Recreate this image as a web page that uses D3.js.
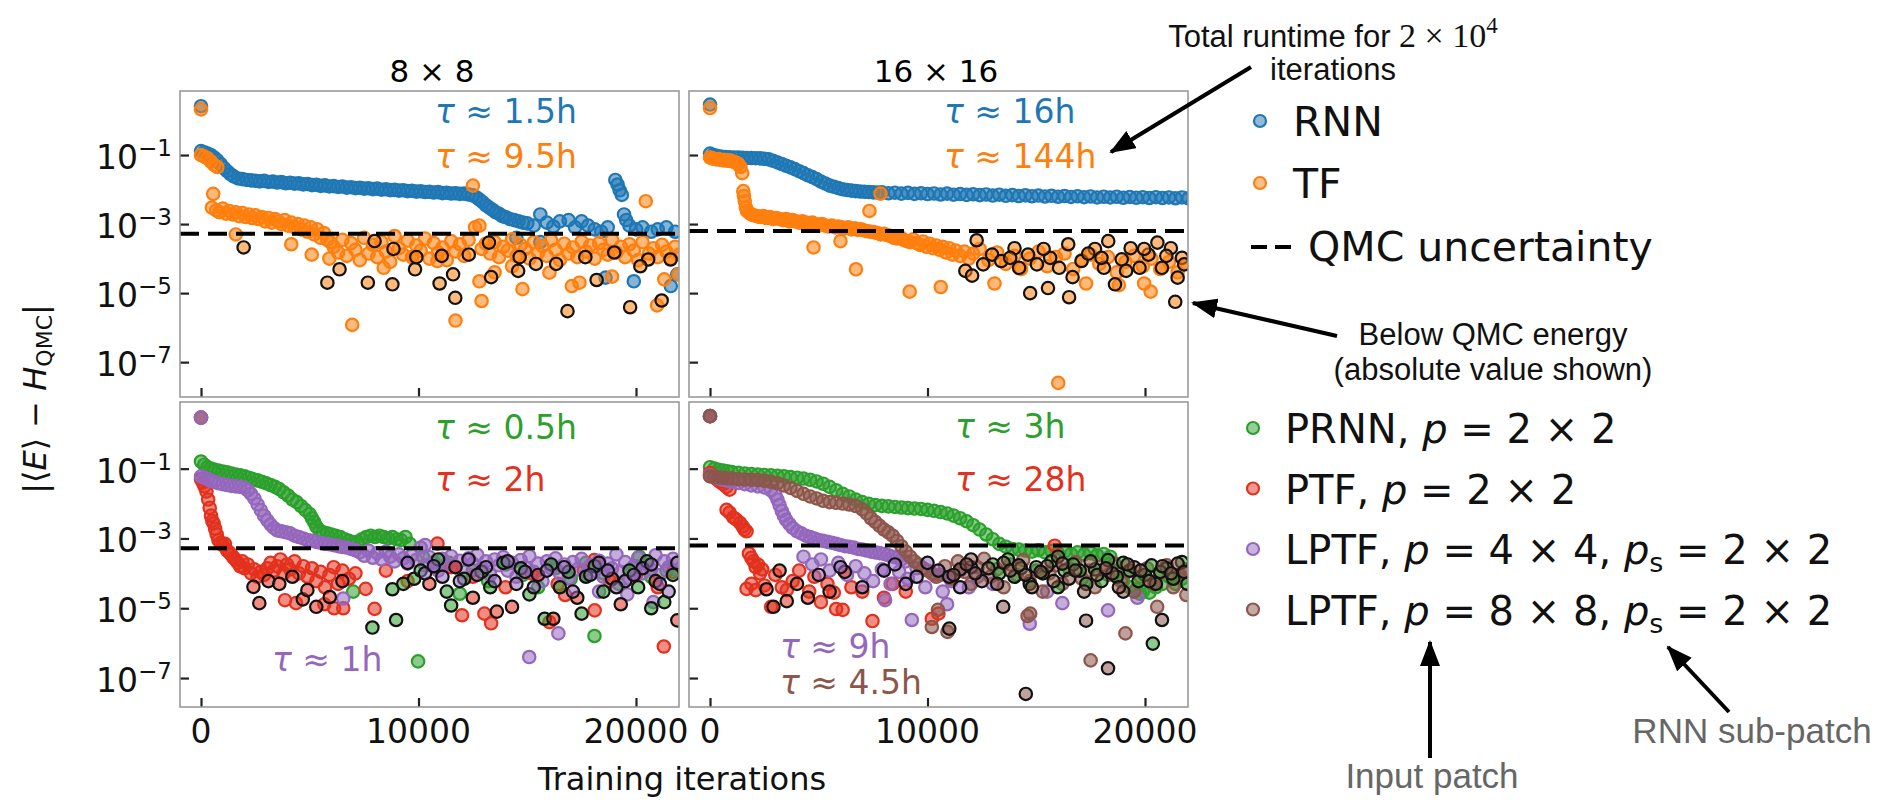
<!DOCTYPE html>
<html>
<head>
<meta charset="utf-8">
<script src="https://cdn.jsdelivr.net/npm/d3@7"></script>
<style>
  body { margin: 0; background: #fff; }
  svg text { white-space: pre; }
</style>
</head>
<body>
<svg id="chart" width="1883" height="800"></svg>
<script>

// ---- data: [iteration, |<E> - H_QMC|] ----

var xTicks = [0, 10000, 20000];
var yTicks = [1e-1, 1e-3, 1e-5, 1e-7];
var yTickExp = ['1', '3', '5', '7'];
var qmc8 = 5.2e-4;
var qmc16 = 6.3e-4;

// 8x8, RNN
var rnn8 = [[0,2.6],[0,0.13],[150,0.12],[300,0.11],[450,0.1],[600,0.085],[750,0.07],[900,0.055],[1050,0.042],[1200,0.034],[1350,0.028],[1500,0.024],[1700,0.021],[1900,0.02],[2100,0.019],[2300,0.0185],[2500,0.018],[2700,0.0172],[2900,0.0178],[3100,0.0166],[3300,0.0171],[3500,0.016],[3700,0.0164],[3900,0.0152],[4100,0.0157],[4300,0.0148],[4500,0.0151],[4700,0.0141],[4900,0.0145],[5100,0.0134],[5300,0.0138],[5500,0.0128],[5700,0.0132],[5900,0.0123],[6100,0.0126],[6300,0.0119],[6500,0.0122],[6700,0.0114],[6900,0.0117],[7100,0.011],[7300,0.0113],[7500,0.0106],[7700,0.0109],[7900,0.0103],[8100,0.0106],[8300,0.0099],[8500,0.0102],[8700,0.0096],[8900,0.0098],[9100,0.0093],[9300,0.0095],[9500,0.009],[9700,0.0092],[9900,0.0087],[10100,0.0089],[10300,0.0085],[10500,0.0086],[10700,0.0082],[10900,0.0084],[11100,0.0079],[11300,0.0081],[11500,0.0077],[11700,0.0078],[11900,0.0075],[12100,0.0076],[12300,0.0072],[12500,0.0068],[12650,0.006],[12800,0.0051],[12950,0.0043],[13100,0.0035],[13250,0.003],[13400,0.0026],[13550,0.0022],[13700,0.002],[13850,0.0017],[14000,0.0016],[14200,0.0014],[14400,0.0013],[14600,0.0012],[14800,0.0011],[15000,0.00105],[15300,0.0009],[15600,0.0019],[15900,0.0011],[16200,0.00085],[16500,0.0012],[16900,0.0013],[17200,0.0008],[17500,0.0012],[17800,0.0009],[18100,0.0007],[18400,0.0006],[18700,0.0008],[19050,0.019],[19150,0.014],[19250,0.0095],[19350,0.007],[19450,0.0019],[19550,0.0013],[19700,0.0009],[20000,0.0007],[20300,0.0008],[20700,0.0006],[21000,0.0007],[21400,0.0008],[21800,0.0006],[18600,2.8e-5],[19900,2.2e-5],[21600,1.6e-5],[21900,3.5e-5],[14500,0.0004],[15600,0.0003]];

// 8x8, TF
var tf8 = [[0,2.1],[0,0.1],[150,0.09],[300,0.08],[450,0.065],[600,0.052],[750,0.045],[560,0.0075],[500,0.003],[700,0.0025],[850,0.0022],[1000,0.0028],[1150,0.002],[1300,0.0024],[1450,0.0019],[1600,0.0022],[1750,0.0017],[1900,0.0021],[2050,0.0016],[2200,0.0019],[2350,0.0015],[2500,0.0018],[2650,0.0014],[2800,0.0016],[2950,0.0012],[3100,0.0015],[3250,0.0011],[3400,0.0014],[3550,0.0012],[3700,0.001],[3850,0.0013],[4000,0.0009],[4150,0.0011],[4300,0.0008],[4450,0.001],[4600,0.0007],[4750,0.0009],[4900,0.0006],[5050,0.0008],[5200,0.0005],[5350,0.0007],[5500,0.0004],[5650,0.00055],[5800,0.00035],[5950,0.0003],[1600,0.0005],[4150,0.00026],[5090,0.00013],[5900,0.0001],[6100,0.00022],[6300,0.00015],[6500,0.00035],[6700,0.00012],[6900,0.00028],[7100,0.00018],[7300,0.00009],[7500,0.0004],[7700,0.00014],[7900,0.00025],[8100,0.00011],[8300,0.0003],[8500,0.00016],[8700,0.00008],[8900,0.00045],[9100,0.0002],[9300,0.00013],[9500,0.00033],[9700,0.00011],[9900,0.00024],[10100,0.00017],[10300,0.00038],[10500,0.0001],[10700,0.00028],[10900,0.00015],[11100,0.00021],[11300,0.00009],[11500,0.00032],[11700,0.00016],[11900,0.00026],[12100,0.00012],[12300,0.00035],[12500,0.013],[12600,0.0008],[12800,0.0009],[12900,0.00019],[13100,0.00027],[13300,0.00014],[13500,0.0003],[13700,0.00011],[13900,0.00022],[14100,0.00017],[14300,0.00036],[14500,0.00012],[14700,0.00025],[14900,0.00019],[15100,0.0001],[15300,0.0003],[15500,0.00015],[15700,0.00023],[15900,0.00012],[16100,0.00034],[16300,0.00018],[16500,0.00009],[16700,0.00027],[16900,0.00014],[17100,0.00021],[17300,0.00011],[17500,0.00031],[17700,0.00016],[17900,0.00024],[18100,0.0001],[18300,0.00028],[18500,0.00018],[18700,0.00013],[18900,0.00035],[19100,0.00015],[19300,0.00022],[19500,0.00011],[19700,0.00026],[19900,0.00017],[20100,0.00009],[20300,0.0003],[20450,0.0046],[20600,0.00014],[20800,0.0002],[21000,0.00011],[21200,0.00025],[21400,0.00016],[21600,0.0001],[21800,0.00022],[22000,0.00013],[6950,1.2e-6],[11700,1.6e-6],[12900,5.9e-6],[12800,2.2e-5],[14780,1.3e-5],[20970,4.4e-6],[17050,1.6e-5],[17400,2e-5],[16020,3.9e-5],[21950,3.5e-5],[10870,8.5e-5],[8400,5.4e-5],[9730,1.1e-4],[13500,4e-5],[14300,6e-5],[18900,3e-5],[21300,2.5e-5]];

// 8x8, TF points below the QMC energy
var tf8Below = [[1960,2.1e-4],[5810,2.0e-5],[6370,4.9e-5],[7670,2.0e-5],[8800,1.8e-5],[9840,4.9e-5],[10970,1.9e-5],[11690,7.3e-6],[11590,3.5e-5],[13340,2.9e-5],[14580,4.4e-5],[16850,3.0e-6],[18190,2.4e-5],[19730,3.9e-6],[21180,6.1e-6],[7980,3.2e-4],[8850,1.9e-4],[9900,1.1e-4],[11070,1.2e-4],[12310,1.3e-4],[13240,2.9e-4],[16330,7e-5],[17670,1.1e-4],[20560,9.4e-5],[21590,9.4e-5],[15400,7e-5],[14650,1.1e-4],[19000,1.5e-4],[20200,6e-5]];

// 16x16, RNN
var rnn16 = [[0,2.9],[0,0.11],[150,0.1],[300,0.095],[500,0.09],[700,0.088],[900,0.086],[1100,0.085],[1300,0.084],[1500,0.083],[1700,0.082],[1900,0.082],[2100,0.081],[2300,0.08],[2500,0.078],[2700,0.075],[2900,0.068],[3100,0.061],[3300,0.055],[3500,0.049],[3700,0.044],[3900,0.039],[4100,0.034],[4300,0.03],[4500,0.026],[4700,0.023],[4900,0.02],[5100,0.017],[5300,0.015],[5500,0.013],[5700,0.012],[5900,0.011],[6100,0.0102],[6300,0.0097],[6500,0.0093],[6700,0.009],[6900,0.0088],[7100,0.0086],[7300,0.0085],[7500,0.0083],[7700,0.0082],[7900,0.0083],[8200,0.0078],[8500,0.0081],[8800,0.0076],[9100,0.008],[9400,0.0075],[9700,0.0078],[10000,0.0074],[10300,0.0077],[10600,0.0072],[10900,0.0076],[11200,0.0071],[11500,0.0074],[11800,0.007],[12100,0.0073],[12400,0.0069],[12700,0.0072],[13000,0.0067],[13300,0.0071],[13600,0.0066],[13900,0.0069],[14200,0.0065],[14500,0.0068],[14800,0.0064],[15100,0.0067],[15400,0.0063],[15700,0.0066],[16000,0.0062],[16300,0.0065],[16600,0.0061],[16900,0.0064],[17200,0.006],[17500,0.0063],[17800,0.0059],[18100,0.0062],[18400,0.0059],[18700,0.0062],[19000,0.0058],[19300,0.0061],[19600,0.0058],[19900,0.006],[20200,0.0057],[20500,0.006],[20800,0.0057],[21100,0.0059],[21400,0.0056],[21700,0.0059],[22000,0.0056]];

// 16x16, TF
var tf16 = [[0,2.3],[0,0.085],[100,0.08],[200,0.078],[300,0.075],[400,0.076],[500,0.072],[600,0.07],[700,0.072],[800,0.068],[900,0.07],[1000,0.066],[1100,0.064],[1200,0.06],[1300,0.055],[1400,0.045],[1480,0.03],[1530,0.009],[1560,0.0065],[1600,0.0046],[1650,0.003],[1700,0.0024],[1800,0.0021],[1900,0.0019],[2000,0.0018],[2150,0.0017],[2300,0.0016],[2450,0.0017],[2600,0.0015],[2750,0.0016],[2900,0.0014],[3050,0.0015],[3200,0.0014],[3350,0.0013],[3500,0.0014],[3650,0.0012],[3800,0.0013],[3950,0.0012],[4100,0.0011],[4250,0.0012],[4400,0.0011],[4550,0.001],[4700,0.0011],[4850,0.001],[5000,0.0009],[5150,0.001],[5300,0.0009],[5450,0.00085],[5600,0.0009],[5750,0.0008],[5900,0.00085],[6050,0.0008],[6200,0.00075],[6350,0.0008],[6500,0.0007],[6650,0.00075],[6800,0.00068],[6950,0.0007],[7100,0.00065],[7250,0.00062],[7400,0.0006],[7550,0.00058],[7700,0.00055],[7850,0.0005],[8000,0.00052],[8150,0.00048],[8300,0.00045],[8450,0.0004],[8600,0.00038],[8750,0.00042],[8900,0.00035],[9050,0.00032],[9200,0.0003],[9350,0.00036],[9500,0.00028],[9650,0.00025],[9800,0.00031],[9950,0.00022],[10100,0.00027],[10250,0.0002],[10400,0.00024],[10550,0.00018],[10700,0.00022],[10850,0.00015],[11000,0.0002],[11150,0.00013],[11300,0.00017],[11500,0.00012],[11700,0.00016],[11900,0.0001],[12100,0.00014],[12400,0.00019],[12800,0.00009],[13200,0.00015],[13600,0.00007],[14000,0.00012],[14300,0.00005],[14700,0.0001],[15100,0.00016],[15500,0.00006],[15900,0.00011],[16300,0.00014],[16700,0.00005],[17100,0.00009],[17500,0.00013],[17900,0.00007],[18300,0.00011],[18700,0.00004],[19100,0.00008],[19500,0.00012],[19900,0.00006],[20300,0.0001],[20700,0.00005],[21100,0.00008],[21500,0.00004],[21900,0.00007],[7330,0.0024],[7840,0.0076],[4760,0.00021],[6000,0.00032],[6710,4.9e-5],[9180,1.1e-5],[10610,1.5e-5],[13080,1.9e-5],[16010,2.5e-8],[17290,1.9e-5],[20260,1.1e-5],[19960,1.9e-5],[18800,1.7e-5]];

// 16x16, TF points below the QMC energy
var tf16Below = [[12260,3.4e-4],[12970,1.3e-4],[14000,2.0e-4],[14620,1.3e-4],[15030,6.8e-5],[15640,1.05e-4],[16470,2.6e-4],[17080,8.5e-5],[17700,1.9e-4],[18310,3.2e-4],[18930,9.5e-5],[19340,2.0e-4],[19750,5.4e-5],[20160,1.3e-4],[20570,2.9e-4],[21190,2.0e-4],[21700,1.05e-4],[21800,6.8e-5],[12560,6.8e-5],[13390,8.5e-5],[14210,5.4e-5],[16050,5.4e-5],[18110,5.4e-5],[19130,4.4e-5],[20780,5.4e-5],[11740,4.4e-5],[12050,3.2e-5],[14720,1.0e-5],[15540,1.4e-5],[16510,7.6e-6],[18620,1.8e-5],[21390,5.6e-6],[21500,2.8e-5],[16670,2.9e-5],[13800,1.05e-4],[15340,1.9e-4],[18000,1.05e-4],[19960,1.9e-4],[20980,1.2e-4],[17390,1.4e-4]];

// 8x8 patched models
var prnn8 = [[0,2.9],[0,0.16],[150,0.13],[300,0.11],[450,0.1],[600,0.095],[800,0.088],[1000,0.083],[1200,0.078],[1400,0.072],[1600,0.068],[1800,0.064],[2000,0.06],[2200,0.055],[2400,0.05],[2600,0.046],[2800,0.042],[3000,0.038],[3200,0.034],[3400,0.03],[3600,0.026],[3800,0.021],[4000,0.017],[4200,0.013],[4400,0.011],[4600,0.0085],[4800,0.0065],[5000,0.005],[5100,0.0038],[5200,0.003],[5300,0.0022],[5450,0.0017],[5600,0.0015],[5800,0.0014],[6000,0.0013],[6200,0.0012],[6400,0.0011],[6600,0.00095],[6800,0.00085],[7000,0.00078],[7200,0.0008],[7400,0.00095],[7600,0.0011],[7800,0.0012],[8000,0.0011],[8200,0.0012],[8400,0.0011],[8600,0.001],[8800,0.0011],[9000,0.00095],[9200,0.0009],[9400,0.0011],[9600,0.0007],[10200,0.0003],[10800,0.00015],[11400,0.0002],[11900,2.6e-5],[12500,0.00012],[13200,0.00006],[14000,0.00018],[14800,0.00009],[15500,0.00004],[16300,0.00014],[17000,0.00007],[17700,0.0002],[18090,1.6e-6],[18500,0.0001],[19200,0.00005],[20000,0.00016],[20150,0.0003],[20700,0.00008],[21400,0.00012],[9980,3.0e-7],[7000,3e-5]];

var ptf8 = [[0,2.9],[0,0.05],[80,0.04],[160,0.031],[250,0.022],[330,0.013],[400,0.0075],[460,0.0045],[520,0.0032],[580,0.0027],[650,0.0019],[720,0.0013],[800,0.0009],[900,0.00075],[1000,0.00065],[1100,0.0007],[1200,0.00045],[1300,0.0004],[1400,0.00034],[1500,0.00028],[1600,0.00024],[1700,0.0002],[1800,0.00016],[1900,0.00022],[2000,0.00014],[2150,0.00018],[2300,0.0001],[2450,0.00013],[2600,0.00008],[2750,0.00011],[2900,0.00009],[3050,0.00014],[3200,0.0002],[3350,0.00012],[3500,0.00016],[3650,0.00025],[3800,0.0001],[3950,0.00018],[4100,0.00013],[4300,0.00022],[4500,0.0001],[4700,0.00016],[4900,0.00008],[5100,0.00014],[5300,0.00006],[5500,0.00011],[5700,0.00004],[5900,0.00009],[6100,0.00015],[6300,0.00005],[6500,0.00012],[6800,0.00007],[7100,0.0001],[3860,1.7e-5],[4370,1.4e-5],[6120,1.0e-5],[6540,1.0e-5],[5670,1.3e-5],[7980,9.6e-6],[7570,3.6e-5],[10870,7.1e-4],[12000,6.3e-6],[13030,7e-6],[13340,3.7e-6],[16020,4e-6],[18100,8.7e-6],[21280,8e-7],[16740,2.4e-5],[8500,0.00012],[9500,0.00006],[11500,0.00015],[12500,0.00008],[14000,0.00004],[15200,0.0001],[16400,0.00005],[17600,0.00012],[18800,0.00006],[20000,0.00009],[21000,0.00004],[21700,0.00011],[18080,2.4e-4]];

var lptf8 = [[0,2.9],[0,0.06],[150,0.055],[300,0.05],[450,0.045],[600,0.042],[800,0.038],[1000,0.036],[1200,0.034],[1400,0.032],[1600,0.031],[1800,0.03],[2000,0.028],[2150,0.024],[2300,0.019],[2450,0.014],[2600,0.0095],[2750,0.0065],[2900,0.0045],[3050,0.0033],[3200,0.0025],[3350,0.002],[3500,0.0017],[3700,0.0016],[3900,0.0015],[4100,0.0014],[4300,0.0012],[4500,0.0011],[4700,0.001],[4900,0.0009],[5100,0.00085],[5300,0.0008],[5500,0.00075],[5700,0.0007],[5900,0.00068],[6100,0.00064],[6300,0.0006],[6500,0.00057],[6700,0.00055],[6900,0.0005],[7100,0.00046],[7300,0.0004],[7500,0.00032],[7700,0.00045],[7900,0.00028],[8100,0.00038],[8300,0.00025],[8500,0.00042],[8700,0.0003],[8900,0.00022],[9100,0.00035],[9300,0.00027],[9500,0.00019],[9700,0.00033],[9900,0.00024],[10100,0.00055],[10300,0.00017],[10500,0.00029],[10700,0.00021],[10900,0.00012],[11100,0.00026],[11300,0.00018],[11500,0.00031],[11700,0.00015],[11900,0.00023],[12100,0.00011],[12300,0.00027],[12500,0.00019],[12700,0.00034],[12900,0.00014],[13100,0.00022],[13300,0.00009],[13500,0.00025],[13700,0.00017],[13900,0.00029],[14100,0.00012],[14300,0.0002],[14500,0.00008],[14700,0.00024],[14900,0.00015],[15100,0.00031],[15300,0.00011],[15500,0.00019],[15700,0.00006],[15900,0.00022],[16100,0.00014],[16300,0.00027],[16500,0.0001],[16700,0.00018],[16900,0.00007],[17100,0.00021],[17300,0.00013],[17500,0.00026],[17700,0.00009],[17900,0.00017],[18100,0.00012],[18300,0.00023],[18500,0.00008],[18700,0.00019],[18900,0.00014],[19100,0.00035],[19300,0.00011],[19500,0.00021],[19700,0.00007],[19900,0.00016],[20100,0.00028],[20300,0.0001],[20500,0.00018],[20700,0.00013],[20900,0.00033],[21100,0.00009],[21300,0.00022],[21500,0.00015],[21700,0.00026],[21900,0.00012],[15090,4e-7],[6540,1.9e-5],[16430,1.9e-6],[19600,2.5e-5],[20800,1.5e-5],[18300,3e-5],[10300,0.00065]];

var prnn8Below = [[7880,2.8e-6],[8970,4.6e-6],[8800,3.5e-5],[9300,5e-5],[9800,7e-5],[10100,1.2e-4],[10900,2.5e-4],[11300,3e-5],[12100,7e-5],[12900,1.1e-4],[13300,4e-5],[13900,2e-4],[14700,1.4e-4],[15100,2.5e-5],[15800,5e-6],[16100,1.8e-4],[16500,4e-5],[16900,1.1e-4],[17500,7e-6],[17700,8e-5],[18100,1.6e-4],[18500,3e-5],[19700,1.2e-4],[20100,4e-5],[20500,2.2e-4],[20700,1e-5],[21300,1.5e-5],[21700,9e-5],[11500,1.2e-5]];
var ptf8Below = [[2410,4.1e-5],[2680,1.4e-5],[3100,6e-5],[3600,5e-5],[4200,8e-5],[4680,1.8e-5],[4890,3.3e-5],[5300,1.1e-5],[5920,2.1e-5],[6500,6e-5],[13600,8e-6],[16200,5e-6],[10500,5e-5],[12500,2e-5],[14300,1.1e-5],[17300,2e-5],[19300,1.3e-5],[21900,4.5e-6],[11700,1.5e-4],[15500,9e-5],[18900,7e-5],[20900,6e-5]];
var lptf8Below = [[10300,1e-4],[11900,6e-5],[13100,1.5e-4],[14500,5e-5],[15900,1.2e-4],[17100,3e-5],[18300,2e-4],[19500,6e-5],[20300,1.4e-4],[21500,3e-5],[9500,2e-4],[12300,2.5e-4],[10700,1.6e-4],[11100,8e-5],[12700,9e-5],[13500,6e-5],[14100,2.2e-4],[14900,1.1e-4],[15300,4e-5],[16700,1.5e-4],[17900,9e-5],[18700,1.2e-4],[19100,4e-5],[19900,9e-5],[20700,1.8e-4],[21100,5e-5],[21900,2e-4]];

// 16x16 patched models
var prnn16 = [[0,3.2],[0,0.11],[200,0.1],[400,0.092],[600,0.088],[800,0.084],[1000,0.08],[1300,0.076],[1600,0.072],[1900,0.07],[2200,0.068],[2500,0.066],[2800,0.064],[3100,0.062],[3400,0.06],[3700,0.057],[4000,0.055],[4300,0.052],[4600,0.048],[4900,0.043],[5200,0.037],[5500,0.03],[5800,0.024],[6100,0.019],[6400,0.016],[6700,0.013],[7000,0.011],[7300,0.0098],[7600,0.009],[7900,0.0086],[8200,0.0083],[8500,0.008],[8800,0.0077],[9100,0.0074],[9400,0.0072],[9700,0.007],[10000,0.0066],[10300,0.0062],[10600,0.0057],[10900,0.0052],[11200,0.0045],[11500,0.0038],[11800,0.0031],[12100,0.0024],[12400,0.0018],[12700,0.0013],[13000,0.00095],[13300,0.0007],[13600,0.00058],[13900,0.0005],[14200,0.00048],[14500,0.00045],[14800,0.00042],[15100,0.00046],[15400,0.0004],[15700,0.00044],[16000,0.00038],[16300,0.00042],[16600,0.00036],[16900,0.0004],[17200,0.00035],[17500,0.00038],[17800,0.00033],[18100,0.00036],[18400,0.0003],[18700,0.00012],[19000,0.00006],[19300,0.00004],[19600,0.000035],[19760,0.000026],[19900,0.00003],[20200,0.000028],[20500,0.00004],[20800,0.00005],[21100,0.00008],[21400,0.00005],[21700,0.00007]];

var ptf16 = [[0,3.2],[0,0.075],[150,0.06],[300,0.05],[450,0.042],[600,0.036],[750,0.03],[900,0.025],[760,0.0066],[900,0.0055],[1070,0.004],[1200,0.0035],[1380,0.0028],[1500,0.0022],[1580,0.0018],[1680,0.0016],[1790,0.00037],[1900,0.00028],[2000,0.00022],[2100,0.00015],[2200,0.00018],[2300,0.0001],[2400,0.00013],[1680,0.000036],[1900,0.00005],[2100,0.000033],[2500,0.000045],[2810,0.000011],[3000,0.00009],[3300,0.00004],[3530,0.000033],[3800,0.00006],[4100,0.00012],[4560,0.00003],[4800,0.00008],[5100,0.000015],[5400,0.00005],[5690,0.000028],[5800,0.0000095],[6100,0.000009],[6500,0.00004],[7000,0.00003],[7470,0.0000043],[8000,0.00002],[8400,0.00005],[9000,0.00003],[10200,0.000005],[10500,0.000007],[15850,0.00062]];

var lptf4x16 = [[0,3.2],[0,0.065],[200,0.058],[400,0.052],[600,0.048],[800,0.045],[1000,0.042],[1300,0.039],[1600,0.036],[1900,0.033],[2200,0.031],[2500,0.029],[2800,0.024],[3000,0.018],[3100,0.013],[3200,0.009],[3300,0.0062],[3400,0.0045],[3500,0.0034],[3650,0.0026],[3800,0.002],[4000,0.0016],[4200,0.0014],[4400,0.0012],[4600,0.0011],[4800,0.001],[5000,0.0009],[5200,0.00085],[5400,0.0008],[5600,0.00075],[5800,0.0007],[6000,0.00065],[6200,0.0006],[6400,0.00058],[6600,0.00055],[6800,0.0005],[7000,0.00048],[7200,0.00045],[7400,0.00042],[7600,0.0004],[7800,0.00038],[8000,0.00036],[8200,0.00033],[8400,0.0003],[8600,0.00028],[8800,0.00025],[9000,0.00022],[4300,0.0003],[4700,0.00018],[5100,0.00025],[5500,0.00012],[5900,0.0002],[6300,0.00009],[6700,0.00016],[7100,0.0001],[7500,0.00006],[7900,0.00013],[8300,0.00005],[8700,0.00011],[9100,0.00007],[9500,0.00014],[9900,0.00004],[10300,0.00009],[10700,0.00003],[11100,0.00006],[11500,0.00012],[11900,0.00004],[12300,0.00008],[13000,0.00005],[9280,4.6e-6],[14700,3.6e-6],[16200,1.4e-5],[19650,2e-5],[18300,8.7e-6],[8050,1.7e-5],[10900,1.3e-5],[15500,3e-5],[17300,5e-5]];

var lptf8x16 = [[0,3.2],[0,0.06],[200,0.058],[400,0.056],[600,0.055],[800,0.053],[1000,0.052],[1300,0.05],[1600,0.049],[1900,0.048],[2200,0.047],[2500,0.045],[2800,0.042],[3100,0.038],[3400,0.033],[3700,0.028],[4000,0.023],[4300,0.019],[4600,0.016],[4900,0.014],[5200,0.012],[5500,0.011],[5800,0.0105],[6100,0.01],[6400,0.0094],[6700,0.0085],[7000,0.0068],[7200,0.0052],[7400,0.0038],[7600,0.003],[7800,0.0023],[8000,0.0018],[8200,0.0015],[8400,0.0012],[8600,0.00085],[8800,0.0006],[9000,0.00042],[9200,0.0003],[9400,0.00022],[9600,0.00018],[9800,0.00014],[10000,0.00012],[10200,0.0001],[10400,0.00008],[10600,0.00009],[10800,0.00016],[11100,0.00007],[11400,0.00022],[11700,0.00011],[12000,0.00005],[12300,0.00015],[12600,0.00026],[12900,0.00008],[13200,0.00013],[13500,0.00004],[13800,0.00018],[14100,0.00009],[14400,0.00024],[14700,0.00006],[15000,0.00012],[15300,0.00003],[15600,0.0001],[15900,0.00017],[16200,0.00005],[16500,0.00014],[16800,0.00021],[17100,0.00007],[17400,0.00012],[17700,0.00004],[18000,0.00016],[18300,0.00009],[18600,0.00019],[18900,0.00006],[19200,0.00011],[19500,0.00003],[19800,0.00008],[20100,0.00014],[20400,0.00005],[20700,0.0001],[21000,0.00017],[21300,0.00004],[21600,0.00009],[21900,0.00013],[10200,2.9e-6],[10480,9e-6],[10920,2.1e-6],[14720,7e-6],[17500,3.2e-7],[19100,1.9e-6],[20560,1.1e-5],[21900,2.4e-5],[14600,6e-6]];

var prnn16Below = [[20360,9.7e-7],[13000,0.00018],[14000,0.00008],[15000,0.00015],[16000,0.00004],[17000,0.00012],[18000,0.00006],[19000,0.0002],[20000,0.00009],[21000,0.00014],[21950,0.00005],[13300,0.0001],[13700,0.00025],[14300,0.00014],[14700,0.00005],[15300,0.0001],[15700,0.00022],[16300,0.00012],[16700,0.00018],[17300,0.00005],[17700,0.00013],[18300,0.00024],[18700,0.00008],[19300,0.00012],[19700,0.00006],[20300,0.00017],[20700,0.00011],[21300,0.00007],[21700,0.00021]];
var ptf16Below = [[2920,1.1e-5],[3530,1.6e-5],[2600,3.5e-5],[3200,0.00012],[4000,5e-5],[5500,0.00003],[6200,0.00011],[4500,0.00002]];
var lptf4x16Below = [[5000,0.00009],[6000,0.00015],[7000,0.00004],[8000,0.00012],[9000,0.00005],[10000,0.0002],[11000,0.00008],[12000,0.00015],[8500,0.00018],[9500,0.00008],[10500,0.00012],[11500,0.00004]];
var lptf8x16Below = [[14520,3.5e-8],[18300,1.9e-7],[17290,4.4e-6],[20780,4.6e-6],[11000,2.6e-6],[13480,1.1e-5],[11500,0.00013],[12500,0.00006],[13500,0.0002],[14500,0.00009],[15500,0.00016],[16500,0.00007],[17500,0.00022],[18500,0.0001],[19500,0.00015],[20500,0.00005],[21500,0.00019],[12000,0.00025],[16000,0.0003],[19000,0.00003],[21800,0.00011],[11200,0.00009],[11800,0.00018],[12200,0.0001],[12800,0.00014],[13200,0.00005],[13800,0.00012],[14200,0.00017],[14800,0.00004],[15200,0.00011],[15800,0.00006],[16200,0.00019],[16800,0.00012],[17200,0.00003],[17800,0.00009],[18200,0.00014],[18800,0.00004],[19200,0.00018],[19800,0.00012],[20200,0.00006],[20800,0.00016],[21200,0.0001]];

//--------------------------------------------------

var col = {
	blue: '#1f77b4', orange: '#ff7f0e', green: '#2ca02c',
	red: '#e3311d', purple: '#9467bd', brown: '#8c564b'
};

var svg = d3.select('#chart');
var defs = svg.append('defs');

defs.append('marker')
	.attr('id', 'arrow')
	.attr('markerUnits', 'userSpaceOnUse')
	.attr('viewBox', '0 0 26 20')
	.attr('refX', 24).attr('refY', 10)
	.attr('markerWidth', 26).attr('markerHeight', 20)
	.attr('orient', 'auto')
	.append('path')
	.attr('d', 'M0,0 L26,10 L0,20 Z')
	.attr('fill', '#000');

var xL = d3.scaleLinear().domain([-966, 21977]).range([180, 679]);
var xR = d3.scaleLinear().domain([-966, 21977]).range([689, 1188]);
var yT = d3.scaleLog().domain([Math.pow(10, -8.01), Math.pow(10, 0.855)]).range([397, 91]);
var yB = d3.scaleLog().domain([Math.pow(10, -7.83), Math.pow(10, 0.91)]).range([707, 402]);

var panels = [
	{ id: 'p0', x: xL, y: yT, qmc: qmc8, xLabels: false, yLabels: true,
	  series: [[rnn8, col.blue], [tf8, col.orange]],
	  below: [[tf8Below, col.orange]] },
	{ id: 'p1', x: xR, y: yT, qmc: qmc16, xLabels: false, yLabels: false,
	  series: [[rnn16, col.blue], [tf16, col.orange]],
	  below: [[tf16Below, col.orange]] },
	{ id: 'p2', x: xL, y: yB, qmc: qmc8, xLabels: true, yLabels: true,
	  series: [[prnn8, col.green], [ptf8, col.red], [lptf8, col.purple]],
	  below: [[prnn8Below, col.green], [ptf8Below, col.red], [lptf8Below, col.purple]] },
	{ id: 'p3', x: xR, y: yB, qmc: qmc16, xLabels: true, yLabels: false,
	  series: [[prnn16, col.green], [ptf16, col.red], [lptf4x16, col.purple], [lptf8x16, col.brown]],
	  below: [[prnn16Below, col.green], [ptf16Below, col.red], [lptf4x16Below, col.purple], [lptf8x16Below, col.brown]] }
];

function drawPoints(g, p, data, color, edge){
	g.append('g')
		.selectAll('circle')
		.data(data)
		.enter()
		.append('circle')
		.attr('cx', function(d){ return p.x(d[0]) })
		.attr('cy', function(d){ return p.y(d[1]) })
		.attr('r', 6.2)
		.attr('fill', color)
		.attr('fill-opacity', 0.55)
		.attr('stroke', edge || color)
		.attr('stroke-width', 2.2);
}

panels.forEach(function(p){
	var x0 = p.x.range()[0], x1 = p.x.range()[1];
	var y0 = p.y.range()[1], y1 = p.y.range()[0];

	defs.append('clipPath').attr('id', 'clip-' + p.id)
		.append('rect')
		.attr('x', x0).attr('y', y0)
		.attr('width', x1 - x0).attr('height', y1 - y0);

	var g = svg.append('g');
	var plot = g.append('g').attr('clip-path', 'url(#clip-' + p.id + ')');

	p.series.forEach(function(s){ drawPoints(plot, p, s[0], s[1]) });
	p.below.forEach(function(s){ drawPoints(plot, p, s[0], s[1], '#111') });

	plot.append('line')
		.attr('x1', x0).attr('x2', x1)
		.attr('y1', p.y(p.qmc)).attr('y2', p.y(p.qmc))
		.attr('stroke', '#000')
		.attr('stroke-width', 4)
		.attr('stroke-dasharray', '19,9');

	var ya = g.append('g')
		.attr('transform', 'translate(' + x0 + ',0)')
		.call(d3.axisLeft(p.y).tickValues(yTicks).tickSize(-9).tickFormat(''));
	var xa = g.append('g')
		.attr('transform', 'translate(0,' + y1 + ')')
		.call(d3.axisBottom(p.x).tickValues(xTicks).tickSize(-9).tickFormat(''));
	[ya, xa].forEach(function(a){
		a.select('.domain').remove();
		a.selectAll('.tick line').attr('stroke', '#222').attr('stroke-width', 2.2);
	});

	g.append('rect')
		.attr('x', x0).attr('y', y0)
		.attr('width', x1 - x0).attr('height', y1 - y0)
		.attr('fill', 'none')
		.attr('stroke', '#9a9a9a')
		.attr('stroke-width', 1.6);

	if (p.yLabels) {
		yTicks.forEach(function(v, i){
			var t = g.append('text')
				.attr('x', x0 - 8)
				.attr('y', p.y(v) + 14)
				.attr('text-anchor', 'end')
				.style('font-family', 'DejaVu Sans')
				.style('font-size', '33px')
				.attr('fill', '#111');
			t.append('tspan').text('10');
			t.append('tspan').attr('dy', -13).style('font-size', '23px').text('\u2212' + yTickExp[i]);
		});
	}
	if (p.xLabels) {
		xTicks.forEach(function(v){
			g.append('text')
				.attr('x', p.x(v))
				.attr('y', y1 + 36)
				.attr('text-anchor', 'middle')
				.style('font-family', 'DejaVu Sans')
				.style('font-size', '33px')
				.attr('fill', '#111')
				.text(v);
		});
	}
});

// panel titles
svg.append('text').attr('x', 432).attr('y', 82).attr('text-anchor', 'middle')
	.style('font-family', 'DejaVu Sans').style('font-size', '31px').text('8 \u00d7 8');
svg.append('text').attr('x', 936).attr('y', 82).attr('text-anchor', 'middle')
	.style('font-family', 'DejaVu Sans').style('font-size', '31px').text('16 \u00d7 16');

// runtime labels
function tauLabel(x, y, txt, color){
	var t = svg.append('text')
		.attr('x', x).attr('y', y)
		.style('font-family', 'DejaVu Sans')
		.style('font-size', '33px')
		.attr('fill', color);
	t.append('tspan').style('font-style', 'italic').text('\u03c4');
	t.append('tspan').text(' \u2248 ' + txt);
}
tauLabel(435, 123, '1.5h', col.blue);
tauLabel(435, 168, '9.5h', col.orange);
tauLabel(944, 123, '16h', col.blue);
tauLabel(944, 168, '144h', col.orange);
tauLabel(435, 439, '0.5h', col.green);
tauLabel(435, 491, '2h', col.red);
tauLabel(272, 671, '1h', col.purple);
tauLabel(955, 438, '3h', col.green);
tauLabel(955, 491, '28h', col.red);
tauLabel(780, 658, '9h', col.purple);
tauLabel(780, 694, '4.5h', col.brown);

// axis titles
svg.append('text').attr('x', 682).attr('y', 790).attr('text-anchor', 'middle')
	.style('font-family', 'DejaVu Sans').style('font-size', '32px').attr('fill', '#111')
	.text('Training iterations');

var yl = svg.append('text')
	.attr('transform', 'translate(46,399) rotate(-90)')
	.attr('text-anchor', 'middle')
	.style('font-family', 'DejaVu Sans').style('font-size', '32px').attr('fill', '#111');
yl.append('tspan').text('|\u27e8');
yl.append('tspan').style('font-style', 'italic').text('E');
yl.append('tspan').text('\u27e9 \u2212 ');
yl.append('tspan').style('font-style', 'italic').text('H');
yl.append('tspan').attr('dy', 6).style('font-size', '22px').text('QMC');
yl.append('tspan').attr('dy', -6).text('|');

// legends
function legendMarker(cx, cy, color){
	svg.append('circle').attr('cx', cx).attr('cy', cy).attr('r', 6)
		.attr('fill', color).attr('fill-opacity', 0.5)
		.attr('stroke', color).attr('stroke-width', 2.2);
}
function legendText(x, y){
	return svg.append('text').attr('x', x).attr('y', y)
		.style('font-family', 'DejaVu Sans').style('font-size', '41px').attr('fill', '#111');
}
legendMarker(1260, 121, col.blue);
legendText(1293, 136).text('RNN');
legendMarker(1260, 183, col.orange);
legendText(1293, 198).text('TF');
svg.append('line').attr('x1', 1251).attr('x2', 1293).attr('y1', 247).attr('y2', 247)
	.attr('stroke', '#000').attr('stroke-width', 4).attr('stroke-dasharray', '16,8');
legendText(1308, 261).text('QMC uncertainty');

var lowLegend = [
	[col.green, 'PRNN', '2 \u00d7 2', null],
	[col.red, 'PTF', '2 \u00d7 2', null],
	[col.purple, 'LPTF', '4 \u00d7 4', '2 \u00d7 2'],
	[col.brown, 'LPTF', '8 \u00d7 8', '2 \u00d7 2']
];
lowLegend.forEach(function(e, i){
	var cy = 428 + i * 60.5;
	legendMarker(1253, cy, e[0]);
	var t = legendText(1285, cy + 15).style('font-size', '40px');
	t.append('tspan').text(e[1] + ', ');
	t.append('tspan').style('font-style', 'italic').text('p');
	t.append('tspan').text(' = ' + e[2]);
	if (e[3]) {
		t.append('tspan').text(', ');
		t.append('tspan').style('font-style', 'italic').text('p');
		t.append('tspan').attr('dy', 8).style('font-size', '27px').text('s');
		t.append('tspan').attr('dy', -8).text(' = ' + e[3]);
	}
});

// annotations
function note(x, y, lines, color, size){
	lines.forEach(function(l, i){
		svg.append('text').attr('x', x).attr('y', y + i * 35)
			.attr('text-anchor', 'middle')
			.style('font-family', 'Liberation Sans')
			.style('font-size', (size || 31) + 'px')
			.attr('fill', color || '#111')
			.text(l);
	});
}
function arrow(xa, ya, xb, yb){
	svg.append('line').attr('x1', xa).attr('y1', ya).attr('x2', xb).attr('y2', yb)
		.attr('stroke', '#000').attr('stroke-width', 4)
		.attr('marker-end', 'url(#arrow)');
}

var rt = svg.append('text').attr('x', 1333).attr('y', 47).attr('text-anchor', 'middle')
	.style('font-family', 'Liberation Sans').style('font-size', '31px').attr('fill', '#111');
rt.append('tspan').text('Total runtime for ');
rt.append('tspan').style('font-family', 'Liberation Serif').style('font-size', '34px').text('2 \u00d7 10');
rt.append('tspan').attr('dy', -14).style('font-family', 'Liberation Serif').style('font-size', '23px').text('4');
note(1333, 80, ['iterations']);
arrow(1251, 67, 1111, 152);

note(1493, 345, ['Below QMC energy', '(absolute value shown)']);
arrow(1337, 336, 1193, 303);

note(1432, 788, ['Input patch'], '#666', 35);
arrow(1430, 758, 1430, 642);
note(1752, 743, ['RNN sub-patch'], '#666', 35);
arrow(1729, 712, 1668, 647);

</script>
</body>
</html>
